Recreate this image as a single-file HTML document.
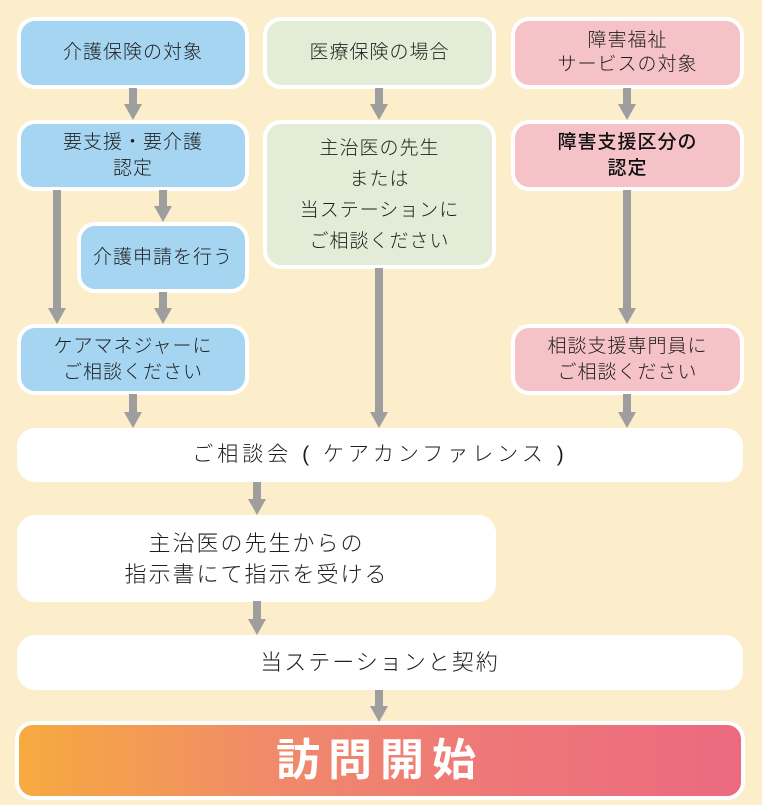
<!DOCTYPE html>
<html><head><meta charset="utf-8"><style>
body{margin:0;width:762px;height:805px;background:#fcedcb;position:relative;overflow:hidden;font-family:"Liberation Sans","Noto Sans CJK JP",sans-serif;color:#1e1e1e}
.b{position:absolute;box-sizing:border-box;border:4px solid #fff;border-radius:18px;display:flex;align-items:center;justify-content:center;text-align:center;font-size:19px;line-height:26px;letter-spacing:1px;font-weight:300}
.bl{background:#a6d5f2}.gr{background:#e2ecd6}.pk{background:#f5c2c7}.wh{background:#fff;border-color:#fff}
svg{position:absolute;left:0;top:0}
</style></head><body>
<div class="b bl" style="left:17px;top:17px;width:232px;height:72px">介護保険の対象</div>
<div class="b bl" style="left:17px;top:120px;width:232px;height:71px">要支援・要介護<br>認定</div>
<div class="b bl" style="left:77px;top:222px;width:172px;height:71px">介護申請を行う</div>
<div class="b bl" style="left:17px;top:324px;width:232px;height:71px">ケアマネジャーに<br>ご相談ください</div>
<div class="b gr" style="left:263px;top:17px;width:233px;height:72px">医療保険の場合</div>
<div class="b gr" style="left:263px;top:120px;width:233px;height:149px;line-height:31px">主治医の先生<br>または<br>当ステーションに<br>ご相談ください</div>
<div class="b pk" style="left:511px;top:17px;width:233px;height:72px;line-height:24px">障害福祉<br>サービスの対象</div>
<div class="b pk" style="left:511px;top:120px;width:233px;height:71px;font-weight:500;color:#111">障害支援区分の<br>認定</div>
<div class="b pk" style="left:511px;top:324px;width:233px;height:71px">相談支援専門員に<br>ご相談ください</div>
<div class="b wh" style="left:17px;top:428px;width:726px;height:54px;font-size:21px;letter-spacing:4px">ご相談会 ( ケアカンファレンス )</div>
<div class="b wh" style="left:17px;top:515px;width:479px;height:87px;font-size:22px;line-height:31px;letter-spacing:2px">主治医の先生からの<br>指示書にて指示を受ける</div>
<div class="b wh" style="left:17px;top:635px;width:726px;height:55px;font-size:22px;letter-spacing:2px">当ステーションと契約</div>
<div class="b" style="left:15px;top:721px;width:730px;height:79px;background:linear-gradient(90deg,#f6aa3f,#f08a6a 35%,#ee7878 65%,#ec6a80);color:#fff;font-size:44px;font-weight:bold;letter-spacing:8px">訪問開始</div>
<svg width="762" height="805" fill="#9e9e9e" stroke="#9e9e9e">
<g stroke-width="8">
<line x1="133" y1="88" x2="133" y2="106"/><line x1="57" y1="190" x2="57" y2="310"/><line x1="163" y1="190" x2="163" y2="208"/><line x1="163" y1="292" x2="163" y2="310"/><line x1="133" y1="394" x2="133" y2="414"/>
<line x1="379" y1="88" x2="379" y2="106"/><line x1="379" y1="268" x2="379" y2="414"/>
<line x1="627" y1="88" x2="627" y2="106"/><line x1="627" y1="190" x2="627" y2="310"/><line x1="627" y1="394" x2="627" y2="414"/>
<line x1="257" y1="482" x2="257" y2="501"/><line x1="257" y1="601" x2="257" y2="621"/><line x1="379" y1="690" x2="379" y2="708"/>
</g>
<g stroke="none">
<path d="M124 104h18l-9 16z"/><path d="M48 308h18l-9 16z"/><path d="M154 206h18l-9 16z"/><path d="M154 308h18l-9 16z"/><path d="M124 412h18l-9 16z"/>
<path d="M370 104h18l-9 16z"/><path d="M370 412h18l-9 16z"/>
<path d="M618 104h18l-9 16z"/><path d="M618 308h18l-9 16z"/><path d="M618 412h18l-9 16z"/>
<path d="M248 499h18l-9 16z"/><path d="M248 619h18l-9 16z"/><path d="M370 706h18l-9 16z"/>
</g></svg>
</body></html>
